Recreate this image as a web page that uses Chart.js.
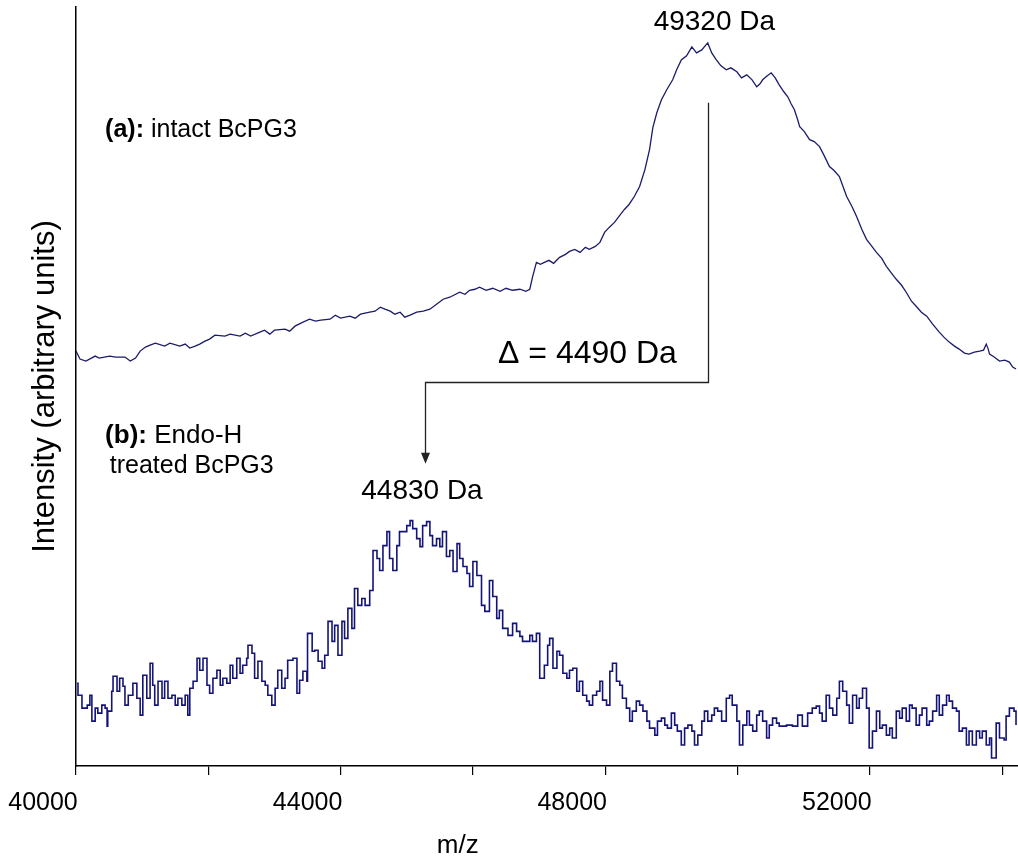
<!DOCTYPE html>
<html><head><meta charset="utf-8">
<script src="https://cdn.jsdelivr.net/npm/chart.js@4.4.1/dist/chart.umd.min.js"></script>
<style>html,body{margin:0;padding:0;background:#fff;}#wrap{width:1018px;height:865px;}</style>
</head><body><div id="wrap"><canvas id="c" width="1018" height="865"></canvas></div>
<script>
// ---- data (m/z in Da, intensity in arbitrary units) ----
const mzA = [40000,40030,40060,40150,40290,40350,40510,40600,40740,40820,40900,40970,41050,41120,41200,41340,41420,41570,41650,41720,41800,41870,41950,42020,42100,42250,42330,42480,42560,42640,42780,42850,42930,43000,43160,43230,43310,43400,43530,43620,43700,43840,43920,44000,44140,44220,44300,44440,44520,44600,44670,44750,44820,44900,44970,45050,45150,45250,45350,45450,45550,45650,45800,45880,45950,46030,46100,46200,46300,46410,46500,46600,46710,46800,46860,46900,46960,47020,47080,47150,47220,47310,47400,47460,47540,47620,47700,47760,47850,47920,47990,48060,48140,48220,48290,48360,48440,48520,48600,48670,48720,48780,48850,48930,49020,49080,49150,49230,49310,49380,49460,49510,49550,49610,49680,49750,49830,49900,49990,50060,50140,50220,50290,50340,50380,50450,50510,50570,50630,50700,50760,50810,50860,50900,50940,51010,51090,51160,51240,51310,51390,51460,51540,51600,51650,51730,51800,51880,51950,52020,52100,52180,52250,52330,52400,52480,52550,52630,52700,52780,52860,52950,53050,53120,53200,53280,53350,53430,53500,53580,53660,53720,53760,53790,53810,53880,53960,54040,54110,54160,54210];
const intA = [416,412,408,406,411,409,411,410,410,406,409,416,420,422,424,421,424,421,423,419,421,423,426,428,432,431,433,431,434,431,435,437,433,437,438,436,441,444,448,446,447,448,452,449,451,449,453,455,456,460,458,456,453,455,450,452,455,456,458,463,468,470,475,473,477,478,480,477,479,476,479,477,478,476,478,490,505,503,505,507,504,510,513,516,518,515,520,518,521,525,535,540,545,552,558,563,571,581,598,618,640,655,668,678,688,698,708,712,721,715,718,722,725,715,708,702,698,700,696,690,693,688,681,684,688,692,695,690,683,676,671,664,658,650,641,636,628,626,621,612,601,597,591,580,571,561,551,538,528,522,515,509,501,494,488,482,475,466,461,455,451,443,435,430,425,421,418,414,413,415,416,417,423,418,413,410,406,407,405,400,398];

const mzB = [40015,40030,40090,40170,40210,40240,40290,40330,40390,40440,40470,40480,40540,40560,40620,40660,40710,40740,40790,40860,40920,40970,41010,41070,41120,41160,41190,41240,41300,41340,41390,41450,41500,41540,41600,41650,41690,41720,41770,41830,41870,41920,41980,42020,42070,42130,42180,42220,42280,42330,42370,42430,42480,42520,42580,42600,42660,42700,42750,42810,42860,42900,42960,43010,43050,43110,43160,43200,43280,43340,
43380,43430,43490,43500,43570,43610,43660,43720,43760,43810,43870,43910,43960,44020,44060,44110,44170,44210,44260,44320,44370,44440,44490,44550,44590,44640,44700,44740,44790,44850,44890,44940,45000,45050,45090,45150,45200,45240,45300,45350,45390,45450,45500,45540,45600,45650,45700,45760,45800,45850,45910,45950,46000,46060,46130,46180,46250,46300,46360,46400,46450,46530,46600,46660,46710,46750,46860,46900,46960,
47010,47080,47130,47160,47210,47270,47310,47360,47420,47460,47510,47570,47610,47660,47720,47760,47810,47870,47920,47960,48020,48070,48110,48170,48220,48260,48320,48370,48410,48470,48520,48570,48630,48670,48750,48790,48850,48900,48940,49000,49050,49090,49150,49200,49250,49310,49350,49400,49460,49500,49550,49610,49650,49700,49760,49830,49880,49920,49990,50030,50080,50140,50180,50230,50290,50330,50380,50440,50480,50530,50590,50630,50740,50830,50910,50980,51060,51130,51190,51240,51280,51340,51390,51440,51500,51540,51590,51650,51690,51740,51800,51840,51890,51950,51990,52040,52100,52150,52190,52250,52300,52340,52400,52450,52490,52550,52600,52640,52700,52750,52790,52860,52900,52950,53010,53050,53100,53160,53200,53250,53310,53350,53400,53460,53500,53550,53610,53660,53700,53760,53810,53840,53910,53960,54030,54060,54110,54180,54210];
const intB = [83,71,58,61,71,45,58,53,61,58,40,55,75,90,75,88,80,61,71,83,68,51,91,68,103,81,61,85,68,85,68,71,61,68,61,71,51,78,85,108,96,108,81,73,88,96,81,88,83,101,88,108,93,101,108,121,113,88,105,85,81,71,61,78,96,78,88,106,108,73,
86,95,85,133,115,116,105,98,111,145,125,141,111,145,128,158,138,178,161,168,161,176,216,208,196,221,235,208,196,221,235,235,241,246,238,228,220,241,245,231,221,228,220,235,210,216,195,223,208,200,193,180,205,191,161,155,186,170,148,156,138,131,143,135,130,125,131,125,133,
88,101,121,128,98,115,111,93,88,96,98,75,85,71,65,61,71,75,85,66,61,95,103,85,81,68,58,45,55,65,61,55,45,38,31,45,48,41,38,53,41,35,21,38,41,35,21,31,45,55,45,51,58,55,45,68,71,61,45,21,41,55,41,35,51,55,45,28,41,48,43,40,41,40,51,40,53,58,60,53,45,71,58,51,68,85,75,61,43,71,58,68,78,58,18,35,55,38,41,31,38,28,55,48,58,45,61,58,41,51,58,41,45,55,71,51,61,71,65,58,55,35,38,21,35,21,35,28,35,21,28,8,43,28,26,50,58,55,41];

const xMin = 40000, xMax = 54240;
const yMin = 0, yMax = 761;
const xTicks = [40000, 42000, 44000, 46000, 48000, 50000, 52000, 54000];
const xLabelled = [40000, 44000, 48000, 52000];
const xTitle = 'm/z';
const yTitle = 'Intensity (arbitrary units)';

// annotation anchors in data units
const notes = [
  {parts:[['bold','(a):'],['normal',' intact BcPG3']], mz:40440, v:638, align:'left', size:25},
  {parts:[['normal','49320 Da']], mz:49650, v:746, align:'center', size:28},
  {parts:[['normal','\u0394 = 4490 Da']], mz:46380, v:413, align:'left', size:32},
  {parts:[['bold','(b):'],['normal',' Endo-H']], mz:40440, v:331, align:'left', size:26},
  {parts:[['normal','treated BcPG3']], mz:40510, v:301, align:'left', size:25},
  {parts:[['normal','44830 Da']], mz:45230, v:275, align:'center', size:28}
];
const bracket = {mzTop:49550, vTop:665, vMid:385, mzArrow:45270, vTip:303};
const xTitlePos = {mz:45770, dy:80};

const FONT = '"Liberation Sans", Arial, sans-serif';

const annot = {
  id:'annot',
  afterDatasetsDraw(chart){
    const {ctx, scales:{x,y}, chartArea} = chart;
    ctx.save();
    ctx.fillStyle = '#000';
    ctx.textBaseline = 'middle';
    for (const n of notes){
      let total = 0;
      const widths = n.parts.map(([w,t])=>{ctx.font = `${w} ${n.size}px ${FONT}`; const m = ctx.measureText(t).width; total += m; return m;});
      let px = x.getPixelForValue(n.mz);
      if (n.align === 'center') px -= total/2;
      const py = y.getPixelForValue(n.v);
      n.parts.forEach(([w,t],i)=>{ctx.font = `${w} ${n.size}px ${FONT}`; ctx.textAlign='left'; ctx.fillText(t, px, py); px += widths[i];});
    }
    // bracket and arrow
    const bx = Math.round(x.getPixelForValue(bracket.mzTop)) + 0.5;
    const ax = Math.round(x.getPixelForValue(bracket.mzArrow)) + 0.5;
    const yt = y.getPixelForValue(bracket.vTop);
    const ym = Math.round(y.getPixelForValue(bracket.vMid)) + 0.5;
    const yp = y.getPixelForValue(bracket.vTip);
    ctx.strokeStyle = '#222';
    ctx.lineWidth = 1.3;
    ctx.beginPath();
    ctx.moveTo(bx, yt); ctx.lineTo(bx, ym); ctx.lineTo(ax, ym); ctx.lineTo(ax, yp - 10);
    ctx.stroke();
    ctx.fillStyle = '#222';
    ctx.beginPath();
    ctx.moveTo(ax - 4.5, yp - 11); ctx.lineTo(ax + 4.5, yp - 11); ctx.lineTo(ax, yp); ctx.closePath();
    ctx.fill();
    // x axis title
    ctx.fillStyle = '#000';
    ctx.font = `normal 26px ${FONT}`;
    ctx.textAlign = 'center';
    ctx.fillText(xTitle, x.getPixelForValue(xTitlePos.mz), chartArea.bottom + xTitlePos.dy);
    ctx.restore();
  }
};

new Chart(document.getElementById('c'), {
  type:'line',
  data:{
    datasets:[
      {label:'(a) intact BcPG3', data: mzA.map((m,i)=>({x:m,y:intA[i]})), borderColor:'#1b1b6b', borderWidth:1.3, pointRadius:0, tension:0, fill:false},
      {label:'(b) Endo-H treated BcPG3', data: mzB.map((m,i)=>({x:m,y:intB[i]})), borderColor:'#141478', borderWidth:1.6, pointRadius:0, tension:0, stepped:true, fill:false}
    ]
  },
  options:{
    responsive:false, animation:false, devicePixelRatio:1,
    layout:{padding:{left:0,right:-12,top:7,bottom:34}},
    plugins:{legend:{display:false}, tooltip:{enabled:false}},
    scales:{
      x:{type:'linear', min:xMin, max:xMax, bounds:'data',
        afterBuildTicks:(s)=>{ s.ticks = xTicks.map(v=>({value:v})); },
        border:{display:true,color:'#000',width:1.5},
        grid:{display:true,drawOnChartArea:false,drawTicks:true,tickLength:9,color:'#000',lineWidth:1.2},
        ticks:{autoSkip:false, maxRotation:0, minRotation:0, color:'#000', padding:13, labelOffset:-33,
          font:{family:FONT,size:25},
          callback:(v)=>{ const r = Math.round(v); return xLabelled.indexOf(r) >= 0 ? String(r) : ''; }}
      },
      y:{type:'linear', min:yMin, max:yMax,
        border:{display:true,color:'#000',width:1.5},
        grid:{display:false,drawTicks:false},
        ticks:{display:false},
        title:{display:true,text:yTitle,color:'#000',font:{family:FONT,size:31,lineHeight:1},padding:{top:29.5,bottom:15.5},
          align:'center'}
      }
    }
  },
  plugins:[annot]
});
</script></body></html>
